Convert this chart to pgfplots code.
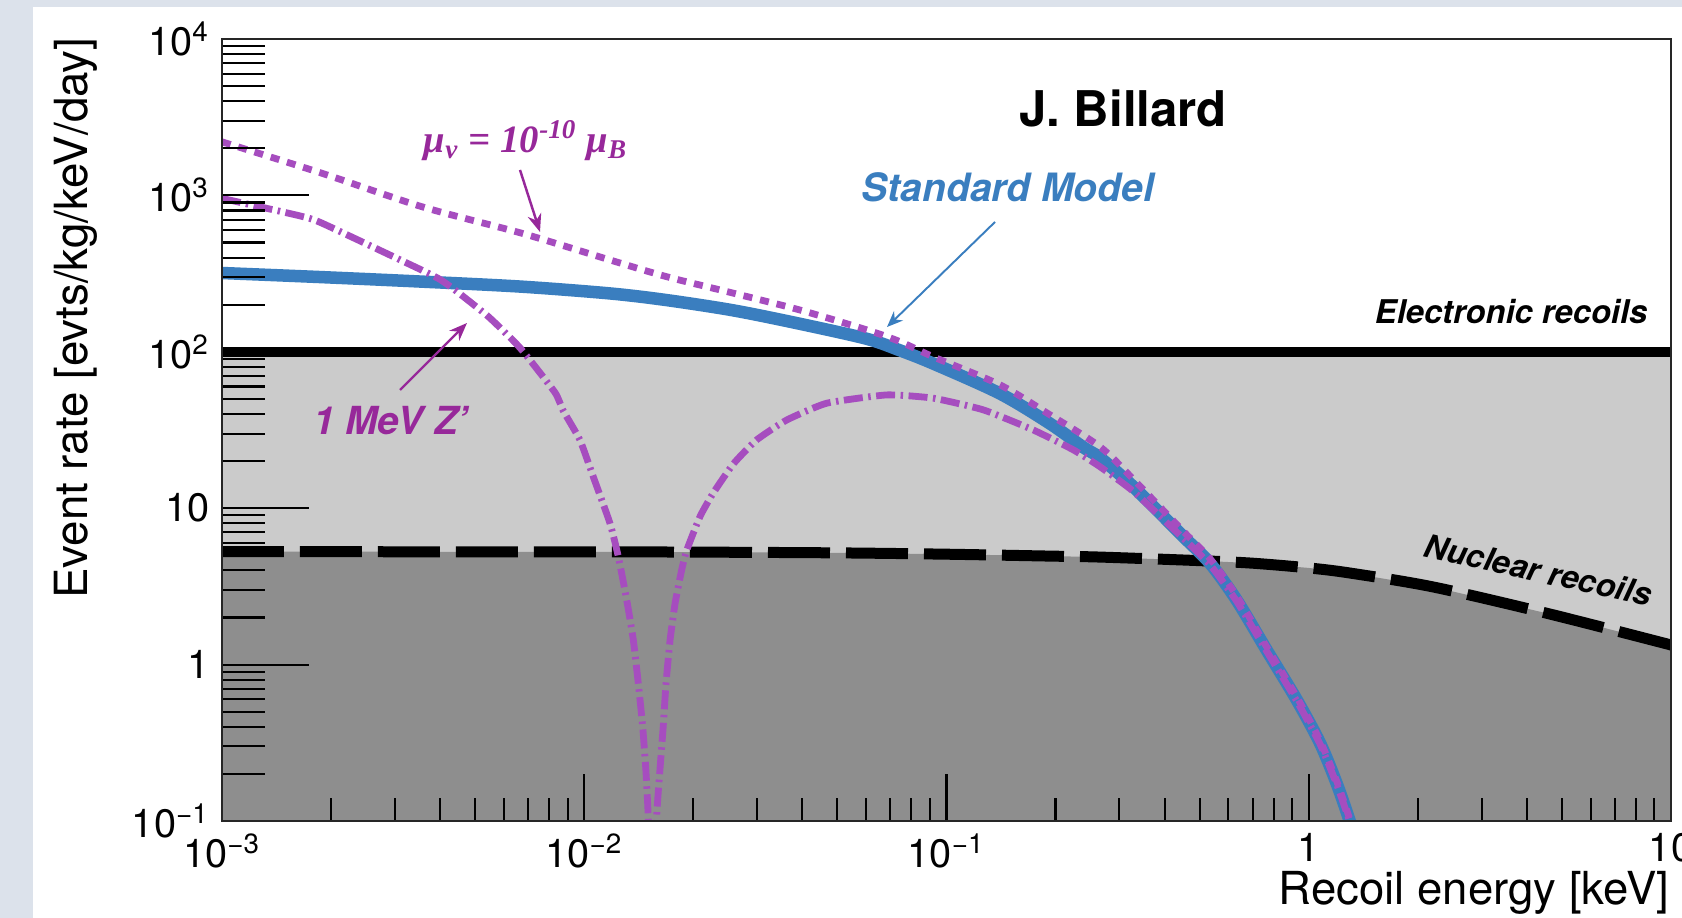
\documentclass[border=0pt]{standalone}
\usepackage{fontspec}
\setmainfont{TeX Gyre Heros}
\newfontfamily\tms{Liberation Serif}
\usepackage{pgfplots}
\pgfplotsset{compat=1.18}
\usepackage{pgfplotstable}
\usetikzlibrary{arrows.meta}

\definecolor{bgblue}{HTML}{DCE2EB}
\definecolor{smblue}{HTML}{3A7EBF}
\definecolor{zpurple}{HTML}{A64DBF}
\definecolor{tpurple}{HTML}{97289A}
\definecolor{ltgray}{HTML}{CBCBCB}
\definecolor{dkgray}{HTML}{8E8E8E}

% nuclear recoil background
\pgfplotstableread{
E R
0.001 5.27
0.002 5.27
0.005 5.26
0.01 5.26
0.02 5.24
0.05 5.18
0.1 5.08
0.193 4.94
0.265 4.87
0.5 4.62
0.7 4.45
1.0 4.15
1.3 3.85
2.2 3.14
4.5 2.14
9.58 1.37
10 1.33
}\tabnuc

% standard model
\pgfplotstableread{
E R
0.001 319
0.0019 300
0.00356 281
0.0067 261
0.0118 236
0.0169 214
0.0258 184
0.0394 151
0.0603 121
0.0745 102
0.092 84
0.1406 54
0.1932 34.7
0.2387 24.5
0.2654 21.0
0.328 13.7
0.451 6.57
0.534 4.44
0.632 2.59
0.765 1.24
0.927 0.594
1.075 0.314
1.194 0.174
1.285 0.107
1.35 0.075
}\tabsm

% magnetic moment 1e-10 muB
\pgfplotstableread{
E R
0.001 2200
0.00189 1384
0.00356 847
0.00672 573
0.0118 386
0.0169 302
0.0258 237
0.0394 185
0.0603 138
0.0745 116
0.092 92.8
0.1406 61.4
0.1932 39.5
0.2654 24.7
0.328 15.3
0.451 7.1
0.534 4.75
0.632 2.75
0.765 1.3
0.927 0.62
1.075 0.325
1.194 0.18
1.285 0.11
1.35 0.077
}\tabmag

% 1 MeV Z'
\pgfplotstableread{
E R
0.001 957
0.00164 740
0.00189 664
0.00356 333
0.0040 290
0.0044 248
0.00545 167
0.00665 106
0.0083 55
0.00875 42
0.00973 27.3
0.01059 15.9
0.01178 8.0
0.01242 4.9
0.0131 2.59
0.01366 1.44
0.0141 0.76
0.0145 0.40
0.0148 0.21
0.01502 0.107
0.01543 0.02
0.01585 0.107
0.01618 0.212
0.01652 0.401
0.01682 0.759
0.01726 1.44
0.01782 2.47
0.01858 4.03
0.0192 5.41
0.0209 8.9
0.0227 12.5
0.0258 19.2
0.0299 27.3
0.0362 36.6
0.0467 46.9
0.0684 53.0
0.092 50.5
0.1265 42.5
0.1738 31.6
0.224 23.6
0.2654 18.4
0.328 12.8
0.451 6.4
0.534 4.35
0.632 2.55
0.765 1.22
0.927 0.585
1.075 0.31
1.194 0.172
1.285 0.106
1.35 0.074
}\tabzp

\begin{document}
\begin{tikzpicture}
\useasboundingbox (0,0) rectangle (168.2mm,91.8mm);
\clip (0,0) rectangle (168.2mm,91.8mm);
\fill[bgblue] (0,0) rectangle (168.2mm,91.8mm);
\fill[white] (3.25mm,0) rectangle (168.2mm,91.1mm);

\begin{axis}[
    xmode=log, ymode=log,
    xmin=1e-3, xmax=10, ymin=0.1, ymax=1e4,
    scale only axis, width=144.9mm, height=78.2mm,
    at={(22.2mm,9.7mm)}, anchor=south west,
    tick pos=left, tick align=inside,
    tick style={black, line width=0.6pt},
    axis line style={line width=0.7pt, black!85},
    tick label style={font=\fontsize{11.3}{13}\selectfont},
    log origin y=infty,
    axis on top,
    major tick length=4.7mm, minor tick length=2.3mm,
    xtick={1e-3,1e-2,1e-1,1,10},
    xticklabels={10\textsuperscript{−3},10\textsuperscript{−2},10\textsuperscript{−1},1,10},
    minor xtick={0.002,0.003,0.004,0.005,0.006,0.007,0.008,0.009,
                 0.02,0.03,0.04,0.05,0.06,0.07,0.08,0.09,
                 0.2,0.3,0.4,0.5,0.6,0.7,0.8,0.9,
                 2,3,4,5,6,7,8,9},
    ytick=\empty, yminorticks=false,
]
% electronic recoil band and nuclear recoil band
\addplot[draw=none, fill=ltgray] coordinates {(1e-3,0.1) (1e-3,100) (10,100) (10,0.1)};
\addplot[draw=none, fill=dkgray] table[x=E, y=R] {\tabnuc} \closedcycle;
\addplot[black, line width=1.05mm] coordinates {(1e-3,100) (10,100)};
\addplot[black, line width=1.1mm, dash pattern=on 6.2mm off 1.6mm, smooth] table[x=E, y=R] {\tabnuc};
% signals
\addplot[smblue, line width=1.25mm, smooth, tension=0.5] table[x=E, y=R] {\tabsm};
\addplot[zpurple, line width=0.68mm, dash pattern=on 0.9mm off 0.8mm, smooth, tension=0.5] table[x=E, y=R] {\tabmag};
\addplot[zpurple, line width=0.68mm, dash pattern=on 1.9mm off 0.55mm on 0.25mm off 0.55mm, smooth, tension=0.3] table[x=E, y=R] {\tabzp};
\end{axis}

\begin{axis}[
    xmode=log, ymode=log,
    xmin=1e-3, xmax=10, ymin=0.1, ymax=1e4,
    scale only axis, width=144.9mm, height=78.2mm,
    at={(22.2mm,9.7mm)}, anchor=south west,
    tick pos=left, tick align=inside,
    tick style={black, line width=0.6pt},
    axis line style={line width=0.7pt, black!85},
    tick label style={font=\fontsize{11.3}{13}\selectfont},
    axis on top,
    major tick length=8.7mm, minor tick length=4.3mm,
    xtick=\empty, xminorticks=false,
    ytick={0.1,1,10,100,1000,10000},
    yticklabels={10\textsuperscript{−1},1,10,10\textsuperscript{2},10\textsuperscript{3},10\textsuperscript{4}},
    minor ytick={0.2,0.3,0.4,0.5,0.6,0.7,0.8,0.9,
                 2,3,4,5,6,7,8,9,
                 20,30,40,50,60,70,80,90,
                 200,300,400,500,600,700,800,900,
                 2000,3000,4000,5000,6000,7000,8000,9000},
]
\addplot[draw=none] coordinates {(1,1)};
\end{axis}

\begin{scope}[x=0.1mm, y=0.1mm]
\node[font=\fontsize{14}{16}\selectfont\bfseries, inner sep=0] at (1123,810) {J. Billard};
\node[font=\fontsize{11.1}{13}\selectfont\bfseries\itshape, text=smblue, inner sep=0] at (1008,731) {Standard Model};
\node[font=\fontsize{11}{13}\selectfont, text=tpurple, inner sep=0] at (526,777)
  {\tms\bfseries\itshape μ\textsubscript{ν} = 10\textsuperscript{-10} μ\textsubscript{B}};
\node[font=\fontsize{11}{13}\selectfont\bfseries\itshape, text=tpurple, inner sep=0] at (391,497) {1 MeV Z’};
\node[font=\fontsize{9.3}{11}\selectfont\bfseries\itshape, inner sep=0, anchor=east] at (1648,606) {Electronic recoils};
\node[font=\fontsize{9.2}{11}\selectfont\bfseries\itshape, inner sep=0, rotate=-12.6] at (1538,348) {Nuclear recoils};
\node[font=\fontsize{13}{15}\selectfont, inner sep=0, rotate=90, anchor=base east] at (88,881) {Event rate [evts/kg/keV/day]};
\node[font=\fontsize{12.95}{15}\selectfont, inner sep=0, anchor=base east] at (1670,13) {Recoil energy [keV]};
\draw[smblue, line width=0.55pt, -{Stealth[length=1.6mm,width=1.3mm]}] (995,696) -- (887,591);
\draw[tpurple, line width=0.7pt, -{Stealth[length=1.8mm,width=1.4mm]}] (520,748) -- (540,686);
\draw[tpurple, line width=0.7pt, -{Stealth[length=1.8mm,width=1.4mm]}] (400,528) -- (467,595);
\end{scope}
\end{tikzpicture}
\end{document}
